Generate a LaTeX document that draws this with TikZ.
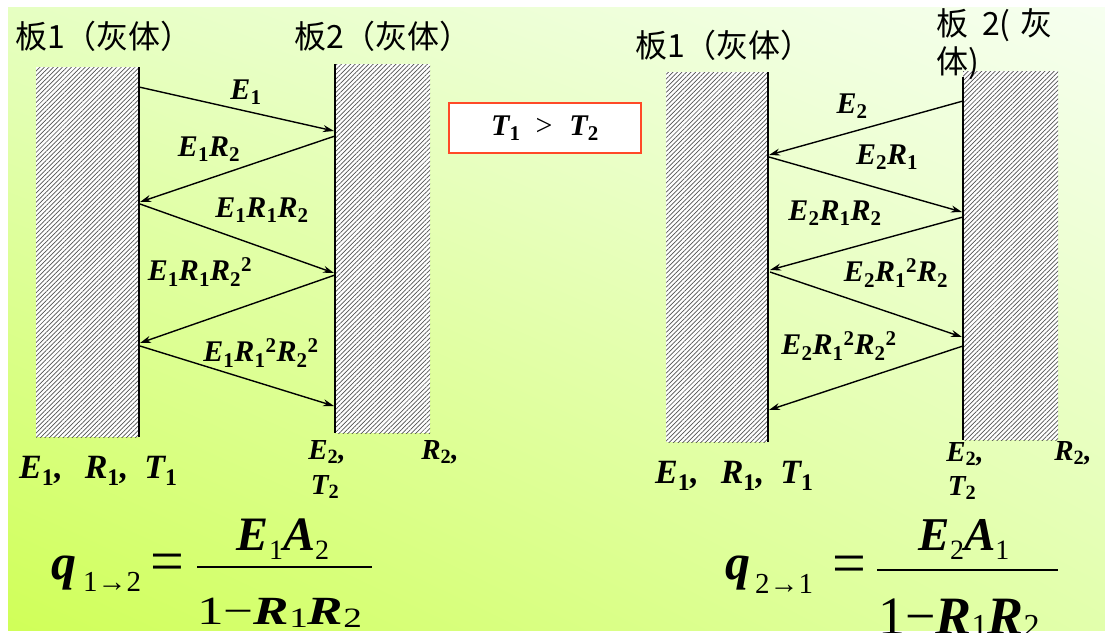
\documentclass[tikz,border=0pt]{standalone}
\usepackage{fontspec}
\usepackage{graphicx}
\setmainfont{Liberation Serif}
\newfontfamily\cjk{Noto Sans CJK SC}
\usetikzlibrary{arrows.meta,patterns.meta,shadings}
\newcommand\dn[1]{\textsubscript{\upshape #1}}
\newcommand\up[1]{\textsuperscript{\upshape #1}}
\definecolor{bgLL}{HTML}{D0FF58}
\definecolor{bgUL}{HTML}{E6FFC2}
\definecolor{bgUR}{HTML}{F6FFF0}
\definecolor{bgLR}{HTML}{E2FFAC}
\definecolor{boxred}{HTML}{FF4A28}
\tikzset{
  lbl/.style={font=\fontsize{30}{32}\selectfont\bfseries\itshape, inner sep=0pt},
  blbl/.style={font=\fontsize{29}{32}\selectfont\bfseries\itshape, inner sep=0pt},
  bigl/.style={font=\fontsize{34}{36}\selectfont\bfseries\itshape, inner sep=0pt},
  ttl/.style={font=\fontsize{32}{34}\selectfont\cjk, inner sep=0pt},
  plate/.style={preaction={fill=white}, pattern={Lines[angle=45,distance=3.2pt,line width=0.7pt]}, pattern color=black!68},
  surf/.style={line width=2pt, black},
  ray/.style={line width=1.4pt, black, -{Stealth[length=11pt,width=7pt]}},
  fbar/.style={line width=2.2pt, black},
  cond/.style={draw=boxred, line width=1.6pt, fill=white, minimum width=192pt, minimum height=50pt, inner sep=0pt}
}
\begin{document}
\begin{tikzpicture}[x=1pt,y=-1pt]
\useasboundingbox (0,0) rectangle (1105,632);
\fill[white] (0,0) rectangle (1105,632);
\shade[upper left=bgUL, upper right=bgUR, lower left=bgLL, lower right=bgLR] (8,7) rectangle (1105,630);

% ---------------- left diagram ----------------
\path[plate] (36,67) rectangle (139,437);
\path[plate] (335,64) rectangle (430,433);
\coordinate (LAt) at (139,67);
\coordinate (LAb) at (139,437);
\coordinate (LBt) at (335,64);
\coordinate (LBb) at (335,433);
\draw[surf] (LAt) -- (LAb);
\draw[surf] (LBt) -- (LBb);

\node[ttl] (tL1) at (104,36) {板1（灰体）};
\node[ttl] (tL2) at (383,36) {板2（灰体）};

\coordinate (la0) at (139,87);
\coordinate (lb0) at (334,131);
\coordinate (lb1) at (335,136);
\coordinate (la1) at (140,202);
\coordinate (la2) at (140,204);
\coordinate (lb2) at (334,273);
\coordinate (lb3) at (335,275);
\coordinate (la3) at (140,343);
\coordinate (la4) at (140,346);
\coordinate (lb4) at (334,406);
\draw[ray] (la0) -- (lb0);
\draw[ray] (lb1) -- (la1);
\draw[ray] (la2) -- (lb2);
\draw[ray] (lb3) -- (la3);
\draw[ray] (la4) -- (lb4);

\node[lbl] (r1) at (246,92) {E\dn{1}};
\node[lbl] (r2) at (209,149) {E\dn{1}R\dn{2}};
\node[lbl] (r3) at (262,210) {E\dn{1}R\dn{1}R\dn{2}};
\node[lbl] (r4) at (200,272) {E\dn{1}R\dn{1}R\dn{2}\up{2}};
\node[lbl] (r5) at (261,353) {E\dn{1}R\dn{1}\up{2}R\dn{2}\up{2}};

\node[bigl, anchor=west] (pL1) at (19,471) {E\dn{1},\hspace{22pt}R\dn{1},\hspace{16pt}T\dn{1}};
\node[blbl] (pL2a) at (327,452) {E\dn{2},};
\node[blbl] (pL2b) at (325,487) {T\dn{2}};
\node[blbl] (pL2c) at (440,452) {R\dn{2},};

% ---------------- condition box ----------------
\node[cond, font=\fontsize{30}{32}\selectfont] (cnd) at (545,128) {\bfseries\itshape T\dn{1}\hspace{15pt}{\mdseries\upshape >}\hspace{17pt}T\dn{2}};

% ---------------- right diagram ----------------
\path[plate] (666,72) rectangle (768,442);
\path[plate] (963,71) rectangle (1058,440);
\coordinate (RAt) at (768,72);
\coordinate (RAb) at (768,442);
\coordinate (RBt) at (963,77);
\coordinate (RBb) at (963,440);
\draw[surf] (RAt) -- (RAb);
\draw[surf] (RBt) -- (RBb);

\node[ttl] (tR1) at (724,45) {板1（灰体）};
\node[ttl, anchor=west] (tR2) at (936,25) {板\hspace{14pt}2(\hspace{10pt}灰};
\node[ttl, anchor=west] (tR3) at (936,63) {体)};

\coordinate (rb0) at (963,101);
\coordinate (ra0) at (769,155);
\coordinate (ra1) at (769,157);
\coordinate (rb1) at (962,212);
\coordinate (rb2) at (963,217);
\coordinate (ra2) at (770,270);
\coordinate (ra3) at (770,272);
\coordinate (rb3) at (962,337);
\coordinate (rb4) at (963,346);
\coordinate (ra4) at (769,410);
\draw[ray] (rb0) -- (ra0);
\draw[ray] (ra1) -- (rb1);
\draw[ray] (rb2) -- (ra2);
\draw[ray] (ra3) -- (rb3);
\draw[ray] (rb4) -- (ra4);

\node[lbl] (s1) at (852,106) {E\dn{2}};
\node[lbl] (s2) at (887,157) {E\dn{2}R\dn{1}};
\node[lbl] (s3) at (835,213) {E\dn{2}R\dn{1}R\dn{2}};
\node[lbl] (s4) at (896,273) {E\dn{2}R\dn{1}\up{2}R\dn{2}};
\node[lbl] (s5) at (839,346) {E\dn{2}R\dn{1}\up{2}R\dn{2}\up{2}};

\node[bigl, anchor=west] (pR1) at (655,476) {E\dn{1},\hspace{22pt}R\dn{1},\hspace{16pt}T\dn{1}};
\node[blbl] (pR2a) at (965,454) {E\dn{2},};
\node[blbl] (pR2b) at (962,488) {T\dn{2}};
\node[blbl] (pR2c) at (1073,453) {R\dn{2},};

% ---------------- left formula ----------------
\node[inner sep=0pt, anchor=base west] (qL) at (51,579) {\fontsize{50}{52}\selectfont\bfseries\itshape q};
\node[inner sep=0pt, anchor=base west] (qLs) at (83,591) {\fontsize{29}{31}\selectfont 1→2};
\node[inner sep=0pt] (eqL) at (167,568) {\fontsize{60}{62}\selectfont =};
\coordinate (fLa) at (197,567);
\coordinate (fLb) at (372,567);
\draw[fbar] (fLa) -- (fLb);
\node[inner sep=0pt, anchor=base] (nL) at (283,550) {\fontsize{48}{50}\selectfont\bfseries\itshape E\raisebox{-9pt}{\fontsize{28}{30}\selectfont\mdseries\upshape 1}A\raisebox{-9pt}{\fontsize{28}{30}\selectfont\mdseries\upshape 2}};
\node[inner sep=0pt, anchor=base west] (dL) at (197,624) {\scalebox{1.33}[1]{\fontsize{40}{42}\selectfont 1−\bfseries\itshape R\raisebox{-3pt}{\fontsize{28}{30}\selectfont\mdseries\upshape 1}R\raisebox{-3pt}{\fontsize{28}{30}\selectfont\mdseries\upshape 2}}};

% ---------------- right formula ----------------
\node[inner sep=0pt, anchor=base west] (qR) at (725,579) {\fontsize{50}{52}\selectfont\bfseries\itshape q};
\node[inner sep=0pt, anchor=base west] (qRs) at (755,593) {\fontsize{29}{31}\selectfont 2→1};
\node[inner sep=0pt] (eqR) at (849,570) {\fontsize{60}{62}\selectfont =};
\coordinate (fRa) at (877,570);
\coordinate (fRb) at (1058,570);
\draw[fbar] (fRa) -- (fRb);
\node[inner sep=0pt, anchor=base] (nR) at (964,550) {\fontsize{47}{49}\selectfont\bfseries\itshape E\raisebox{-9pt}{\fontsize{28}{30}\selectfont\mdseries\upshape 2}A\raisebox{-9pt}{\fontsize{28}{30}\selectfont\mdseries\upshape 1}};
\node[inner sep=0pt, anchor=base west] (dR) at (878,634) {\fontsize{54}{56}\selectfont 1−\bfseries\itshape R\raisebox{-2pt}{\fontsize{32}{34}\selectfont\mdseries\upshape 1}R\raisebox{-2pt}{\fontsize{32}{34}\selectfont\mdseries\upshape 2}};
\end{tikzpicture}
\end{document}
